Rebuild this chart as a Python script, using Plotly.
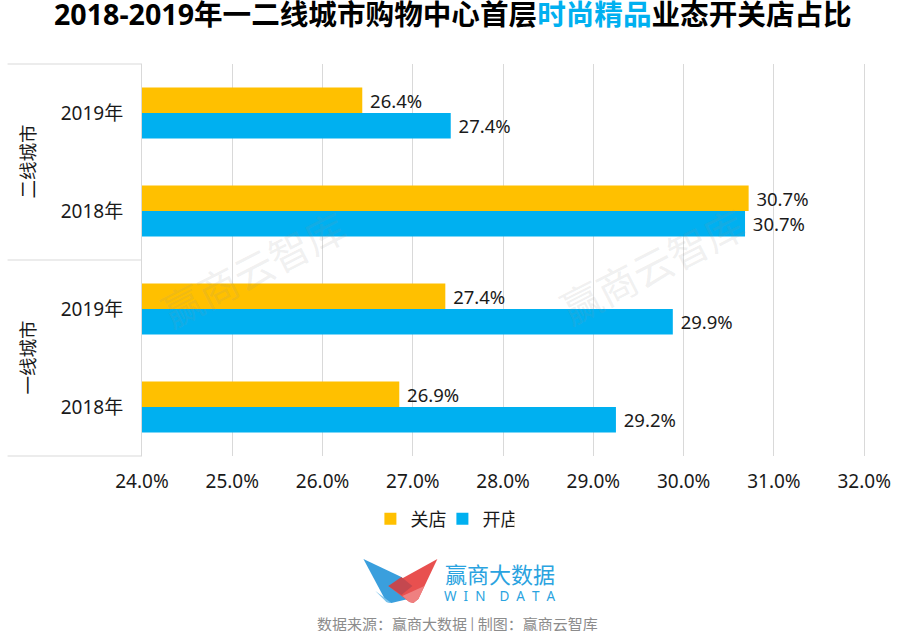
import plotly.graph_objects as go

groups = ["一线城市", "一线城市", "二线城市", "二线城市"]
years = ["2018年", "2019年", "2018年", "2019年"]
open_vals = [29.25, 29.88, 30.68, 27.42]
close_vals = [26.85, 27.36, 30.72, 26.44]
open_labels = ["29.2%", "29.9%", "30.7%", "27.4%"]
close_labels = ["26.9%", "27.4%", "30.7%", "26.4%"]
x_ticks = [24, 25, 26, 27, 28, 29, 30, 31, 32]
x_labels = ["24.0%", "25.0%", "26.0%", "27.0%", "28.0%", "29.0%", "30.0%", "31.0%", "32.0%"]

W, H = 906, 631
L, R, T, B = 141.5, 865.8, 64, 456
FONT = "Noto Sans, Noto Sans CJK SC, sans-serif"
CJK = "Noto Sans CJK SC, sans-serif"
BLUE = "#00B0F0"
GOLD = "#FFC000"
TXT = "#1a1a1a"
LINE = "#d9d9d9"
def px(x): return (x - L) / (R - L)
def py(y): return 1 - (y - T) / (B - T)

keys = [f"{g} {y}" for g, y in zip(groups, years)]

fig = go.Figure()
for name, vals, labels, color in [("开店", open_vals, open_labels, BLUE), ("关店", close_vals, close_labels, GOLD)]:
    fig.add_bar(name=name, y=keys, x=vals, orientation="h", marker_color=color, marker_line_width=0,
                text=labels, texttemplate="\u00a0%{text}", textposition="outside", cliponaxis=False,
                textfont=dict(size=18.5, color=TXT, family=FONT))

def poly(pts, color):
    path = "M " + " L ".join(f"{px(a):.5f},{py(b):.5f}" for a, b in pts) + " Z"
    return dict(type="path", xref="paper", yref="paper", path=path, fillcolor=color,
                line_width=0, layer="above")

def rule(y):
    return dict(type="line", xref="paper", yref="paper", x0=px(7), x1=0, y0=py(y), y1=py(y),
                line=dict(color=LINE, width=1), layer="below")

shapes = [
    rule(64), rule(260), rule(456),
    poly([(363, 559), (401, 577), (412, 598), (391, 603), (386, 602)], "#3a9fdd"),
    poly([(375, 591), (391, 603), (386, 602)], "#7cc4ec"),
    poly([(388, 586), (437, 559), (418, 599), (413, 603), (409, 602)], "#e8504f"),
    poly([(388, 586), (401, 577), (412, 586), (401, 595)], "#c4484f"),
    poly([(409, 602), (413, 603), (418, 599), (424, 586), (402, 596)], "#ef8080"),
]

def note(text, x, y, size, color, family=CJK, angle=0, **kw):
    return dict(text=text, x=px(x), y=py(y), xref="paper", yref="paper", showarrow=False,
                xanchor="center", yanchor="middle", textangle=angle,
                font=dict(size=size, color=color, family=family, **kw))

NB = "\u00a0"
win_data = (NB * 2).join("WIN") + NB * 4 + (NB * 2).join("DATA")
annotations = [
    note('2018-2019年一二线城市购物中心首层<span style="color:#00B0F0">时尚精品</span>业态开关店占比',
         453, 14, 28.6, "#000000", FONT, weight="bold"),
    note("赢商云智库", 253, 268, 40, "rgba(150,150,150,0.15)", angle=-27),
    note("赢商云智库", 652, 265, 40, "rgba(150,150,150,0.15)", angle=-27),
    note("二线城市", 26, 162, 18.5, TXT, angle=-90),
    note("一线城市", 26, 358, 18.5, TXT, angle=-90),
    note("赢商大数据", 500, 573, 22, "#2AA3E0"),
    note(win_data, 500, 596, 13.5, "#2AA3E0", FONT),
    note("数据来源：赢商大数据 | 制图：赢商云智库", 457, 623, 15, "#8c8c8c"),
]

fig.update_layout(
    width=W, height=H, autosize=False,
    margin=dict(l=L, r=W - R, t=T, b=H - B, pad=0),
    paper_bgcolor="white", plot_bgcolor="white",
    barmode="group", bargap=0.48, bargroupgap=0,
    font=dict(family=FONT, size=18, color=TXT),
    legend=dict(orientation="h", traceorder="reversed", x=px(370), xanchor="left", y=py(519), yanchor="middle",
                font=dict(size=18, color=TXT, family=FONT), itemwidth=30,
                entrywidth=27, entrywidthmode="pixels"),
    shapes=shapes, annotations=annotations,
    xaxis=dict(range=[24, 32.02], tickvals=x_ticks, ticktext=x_labels, showgrid=True, gridcolor=LINE,
               gridwidth=1, zeroline=False, ticks="", showline=False, automargin=False, ticklabelstandoff=12,
               tickfont=dict(size=19, color=TXT, family=FONT)),
    yaxis=dict(type="category", categoryorder="array", categoryarray=keys, tickvals=keys, ticktext=years,
               showline=True, linecolor=LINE, linewidth=1, ticks="", showgrid=False, automargin=False,
               ticklabelstandoff=14, tickfont=dict(size=19, color=TXT, family=FONT)),
)
fig.write_html("out.html", config=dict(displayModeBar=False),
               post_script="document.body.style.margin='0';document.body.style.overflow='hidden';")
